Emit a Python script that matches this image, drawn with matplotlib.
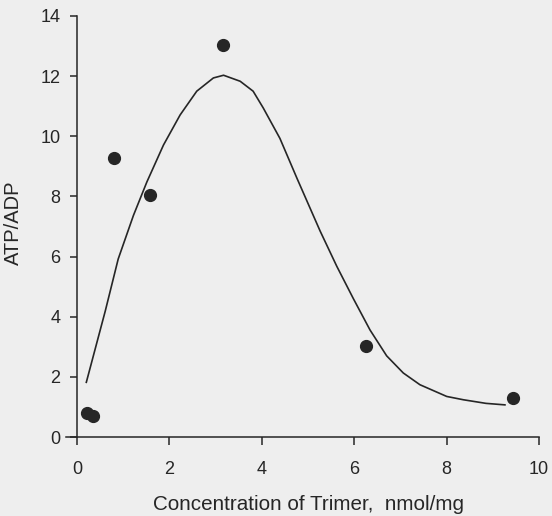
import matplotlib
matplotlib.use("Agg")
import matplotlib.pyplot as plt

plt.rcParams["font.family"] = ["Liberation Sans", "DejaVu Sans"]

# measured points
trimer = [0.22, 0.35, 0.79, 1.58, 3.15, 6.25, 9.43]
atp_adp = [0.81, 0.70, 9.29, 8.06, 13.03, 3.02, 1.29]

# fitted curve
curve_x = [0.20, 0.61, 0.89, 1.22, 1.51, 1.87, 2.23, 2.59, 2.95, 3.17, 3.53,
           3.81, 4.03, 4.39, 4.76, 5.26, 5.62, 5.98, 6.34, 6.70, 7.06, 7.42,
           8.00, 8.36, 8.85, 9.26]
curve_y = [1.82, 4.19, 5.92, 7.37, 8.48, 9.71, 10.71, 11.50, 11.94, 12.03, 11.83,
           11.50, 10.94, 9.93, 8.60, 6.85, 5.68, 4.60, 3.56, 2.70, 2.13, 1.74,
           1.35, 1.24, 1.12, 1.07]

xticks = [0, 2, 4, 6, 8, 10]
yticks = [0, 2, 4, 6, 8, 10, 12, 14]

bg = "#eeeeee"
ink = "#262626"

fig = plt.figure(figsize=(5.52, 5.16), dpi=100, facecolor=bg)
ax = fig.add_axes([0.1187, 0.153, 0.858, 0.816], facecolor=bg)

ax.plot(curve_x, curve_y, color=ink, lw=1.2, solid_joinstyle="round")
ax.plot(trimer, atp_adp, "o", color=ink, ms=8.5, mec=ink)

ax.set_xlim(-0.25, 10)
ax.set_ylim(0, 14)
ax.spines["left"].set_position(("data", 0))
ax.spines["right"].set_visible(False)
ax.spines["top"].set_visible(False)
for s in ("left", "bottom"):
    ax.spines[s].set_color(ink)
    ax.spines[s].set_linewidth(1.1)

ax.set_xticks(xticks)
ax.set_yticks(yticks)
ax.tick_params(axis="x", direction="out", length=6, width=1.1, color=ink,
               labelsize=13, labelcolor=ink, pad=11)
ax.tick_params(axis="y", direction="out", length=5, width=1.1, color=ink,
               labelsize=13, labelcolor=ink, pad=7)

ax.set_xlabel("Concentration of Trimer,  nmol/mg", fontsize=14.9, color=ink)
ax.set_ylabel("ATP/ADP", fontsize=14.5, color=ink)
ax.xaxis.set_label_coords(0.514, -0.137)
ax.yaxis.set_label_coords(-0.09, 0.51)

fig.savefig("out.png", dpi=100, facecolor=bg)
